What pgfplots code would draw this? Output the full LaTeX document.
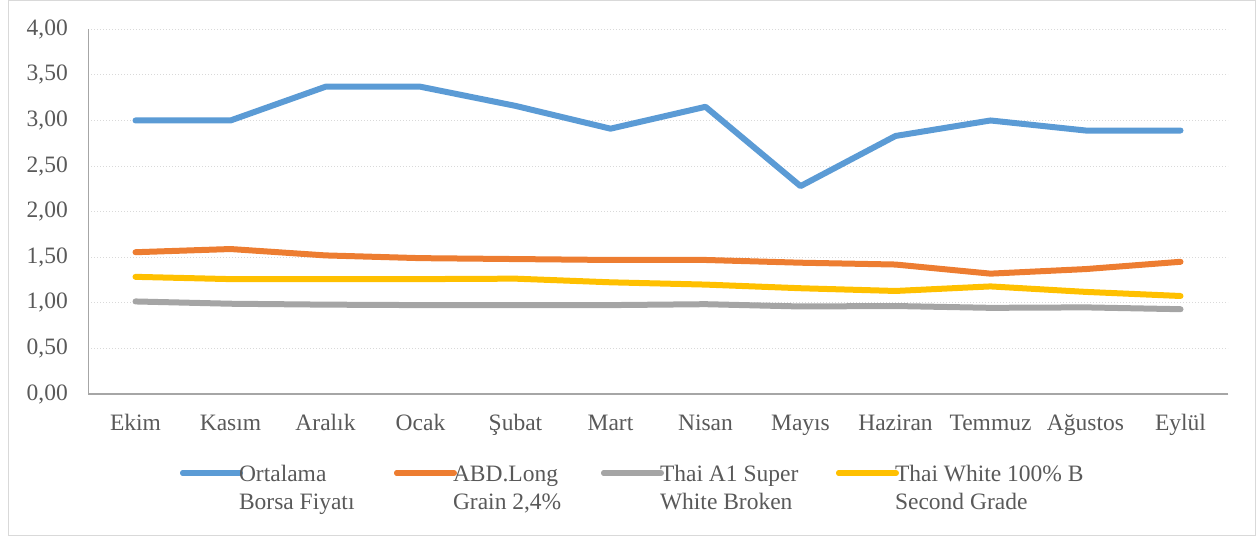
\documentclass[border=0pt]{standalone}
\usepackage{fontspec}
\setmainfont{Liberation Serif}
\usepackage{pgfplots}
\pgfplotsset{compat=1.18}
\definecolor{sblue}{HTML}{5B9BD5}
\definecolor{sorange}{HTML}{ED7D31}
\definecolor{sgray}{HTML}{A5A5A5}
\definecolor{syellow}{HTML}{FFC000}
\definecolor{textgray}{HTML}{595959}
\definecolor{axisgray}{HTML}{A6A6A6}
\definecolor{gridgray}{HTML}{D9D9D9}
\definecolor{bordergray}{HTML}{D9D9D9}
\newcommand{\chartfont}{\fontsize{23.5}{28}\selectfont}
\begin{document}
\chartfont
\begin{tikzpicture}
\useasboundingbox (0,0) rectangle (1257pt,538pt);
\draw[color=bordergray, line width=1pt] (8.5pt,2.5pt) rectangle (1255.5pt,537pt);
\begin{axis}[
  at={(88pt,144pt)}, anchor=south west,
  width=1140pt, height=364.7pt, scale only axis,
  xmin=-0.5, xmax=11.5, ymin=0, ymax=4,
  xtick={0,...,11},
  xticklabels={Ekim,Kasım,Aralık,Ocak,Şubat,Mart,Nisan,Mayıs,Haziran,Temmuz,Ağustos,Eylül},
  ytick={0,0.5,1,1.5,2,2.5,3,3.5,4},
  axis x line*=bottom, axis y line*=left,
  x axis line style={color=axisgray, line width=1.7pt},
  y axis line style={color=axisgray, line width=1pt},
  major tick length=0pt,
  ymajorgrids,
  grid style={color=gridgray, line width=1pt, dash pattern=on 1.2pt off 1.8pt},
  tick label style={font=\chartfont, text=textgray},
  y tick label style={anchor=east, inner sep=0pt, xshift=-20pt,
     /pgf/number format/.cd, fixed, fixed zerofill, precision=2, use comma, assume math mode=true},
  x tick label style={anchor=north, inner sep=0pt, text height=16pt, text depth=5pt, yshift=-20pt},
  legend columns=4,
  legend style={at={(rel axis cs:0.0807,-0.195)}, anchor=north west, draw=none, fill=none,
     font=\chartfont, text=textgray, inner sep=0pt, outer sep=0pt,
     nodes={inner sep=0pt},
     /tikz/every odd column/.append style={column sep=-4pt},
     /tikz/every even column/.append style={column sep=0pt}},
  legend cell align=left,
  legend image code/.code={\path (0pt,2pt) -- (57pt,2pt); \draw[#1, line cap=round, overlay] (0.2pt,2pt) -- (50.8pt,2pt);},
  every axis plot/.append style={line width=6pt, line cap=round, line join=round, mark=none},
]
\addplot[color=sblue] coordinates {(0,3.00) (1,3.00) (2,3.37) (3,3.37) (4,3.16) (5,2.91) (6,3.15) (7,2.28) (8,2.83) (9,3.00) (10,2.89) (11,2.89)};
\addlegendentry{\parbox[t]{155pt}{Ortalama\\Borsa Fiyatı}}
\addplot[color=sorange] coordinates {(0,1.555) (1,1.59) (2,1.52) (3,1.49) (4,1.48) (5,1.47) (6,1.47) (7,1.44) (8,1.42) (9,1.32) (10,1.37) (11,1.45)};
\addlegendentry{\parbox[t]{148pt}{ABD.Long\\Grain 2,4\%}}
\addplot[color=sgray] coordinates {(0,1.015) (1,0.99) (2,0.98) (3,0.975) (4,0.975) (5,0.975) (6,0.985) (7,0.96) (8,0.965) (9,0.945) (10,0.95) (11,0.93)};
\addlegendentry{\parbox[t]{176pt}{Thai A1 Super\\White Broken}}
\addplot[color=syellow] coordinates {(0,1.285) (1,1.26) (2,1.26) (3,1.26) (4,1.265) (5,1.225) (6,1.20) (7,1.16) (8,1.13) (9,1.18) (10,1.12) (11,1.075)};
\addlegendentry{\parbox[t]{200pt}{Thai White 100\% B\\Second Grade}}
\end{axis}
\end{tikzpicture}
\end{document}
